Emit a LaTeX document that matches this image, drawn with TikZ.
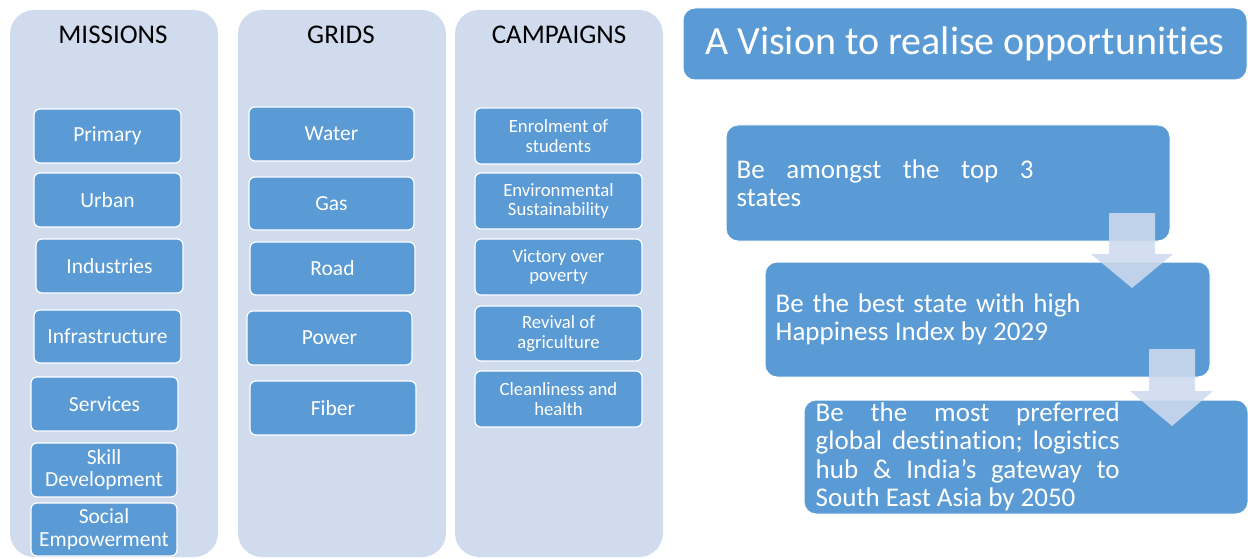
\documentclass[tikz,border=0pt]{standalone}
\usepackage{fontspec}
\setmainfont[Ligatures={NoCommon}]{Carlito}
\definecolor{boxc}{RGB}{91,155,213}
\definecolor{panelc}{RGB}{208,220,238}
\definecolor{arrc}{RGB}{205,218,238}
\begin{document}
\begin{tikzpicture}[x=1pt,y=-1pt,
  sz/.style 2 args={minimum width=#1pt, minimum height=#2pt},
  panel/.style={fill=panelc, draw=none, rounded corners=24pt, inner sep=0pt},
  title/.style={font=\fontsize{27}{30}\selectfont, text=black, inner sep=0pt},
  mbox/.style={fill=boxc, draw=white, line width=1.2pt, rounded corners=6pt, text=white,
    font=\fontsize{21.5}{22.5}\selectfont, align=center, inner sep=0pt},
  cbox/.style={mbox, font=\fontsize{18.7}{19.5}\selectfont},
  vbox/.style={fill=boxc, draw=white, line width=1pt, rounded corners=12pt, inner sep=0pt},
  vtext/.style={text=white, font=\fontsize{27}{28.5}\selectfont, inner sep=0pt, anchor=west},
  barrow/.style={fill=arrc, fill opacity=0.88, draw=none}]
\useasboundingbox (0,0) rectangle (1248,559);

% panels
\node[panel, sz={208}{547}] (pm) at (114,283.5) {};
\node[panel, sz={208}{547}] (pg) at (342,283.5) {};
\node[panel, sz={208}{547}] (pc) at (559,283.5) {};
\node[title] (tm) at (113,35) {MISSIONS};
\node[title] (tg) at (341,35) {GRIDS};
\node[title] (tc) at (559,35) {CAMPAIGNS};

% missions
\node[mbox, sz={147}{54}] (m1) at (107.5,136) {Primary};
\node[mbox, sz={147}{54}] (m2) at (107.5,200) {Urban};
\node[mbox, sz={147}{54}] (m3) at (109.5,266) {Industries};
\node[mbox, sz={147}{53}] (m4) at (107.5,336.5) {Infrastructure};
\node[mbox, sz={147}{54}] (m5) at (104.5,404) {Services};
\node[mbox, sz={146}{54}] (m6) at (104,470) {Skill\\Development};
\node[mbox, sz={146}{53}] (m7) at (104,529.5) {Social\\Empowerment};

% grids
\node[mbox, sz={165}{54}] (g1) at (331.5,134) {Water};
\node[mbox, sz={165}{53}] (g2) at (331.5,203.5) {Gas};
\node[mbox, sz={165}{53}] (g3) at (332.5,268.5) {Road};
\node[mbox, sz={165}{54}] (g4) at (329.5,338) {Power};
\node[mbox, sz={166}{54}] (g5) at (333,408) {Fiber};

% campaigns
\node[cbox, sz={167}{56}] (c1) at (558.5,136) {Enrolment of\\students};
\node[cbox, sz={167}{56}] (c2) at (558.5,201) {Environmental\\Sustainability};
\node[cbox, sz={167}{56}] (c3) at (558.5,267) {Victory over\\poverty};
\node[cbox, sz={167}{55}] (c4) at (558.5,333.5) {Revival of\\agriculture};
\node[cbox, sz={167}{56}] (c5) at (558.5,399) {Cleanliness and\\health};

% vision
\node[vbox, sz={564}{72}, text=white, font=\fontsize{40}{44}\selectfont] (vh) at (965,44) {A Vision to realise opportunities};

\node[vbox, sz={444}{116}] (v1) at (948,183) {};
\node[vtext] (v1t) at ([xshift=11pt]v1.west) {\parbox{297pt}{Be\hfill amongst\hfill the\hfill top\hfill 3\\states}};

\node[vbox, sz={445}{115}] (v2) at (987.5,319.5) {};
\node[vtext] (v2t) at ([xshift=11pt]v2.west) {\parbox{305pt}{Be\hfill the\hfill best\hfill state\hfill with\hfill high\\Happiness Index by 2029}};

\node[vbox, sz={444}{114}] (v3) at (1026,457) {};
\node[vtext] (v3t) at ([xshift=12pt]v3.west) {\parbox{304pt}{Be\hfill the\hfill most\hfill preferred\\global\hfill destination;\hfill logistics\\hub\hfill \&\hfill India’s\hfill gateway\hfill to\\South East Asia by 2050}};

% block arrows
\path[barrow] (1109,213) -- (1155,213) -- (1155,254) -- (1173,254) -- (1132,288) -- (1091,254) -- (1109,254) -- cycle;
\path[barrow] (1149,349) -- (1195,349) -- (1195,391) -- (1213,391) -- (1172,426) -- (1130,391) -- (1149,391) -- cycle;
\end{tikzpicture}
\end{document}
